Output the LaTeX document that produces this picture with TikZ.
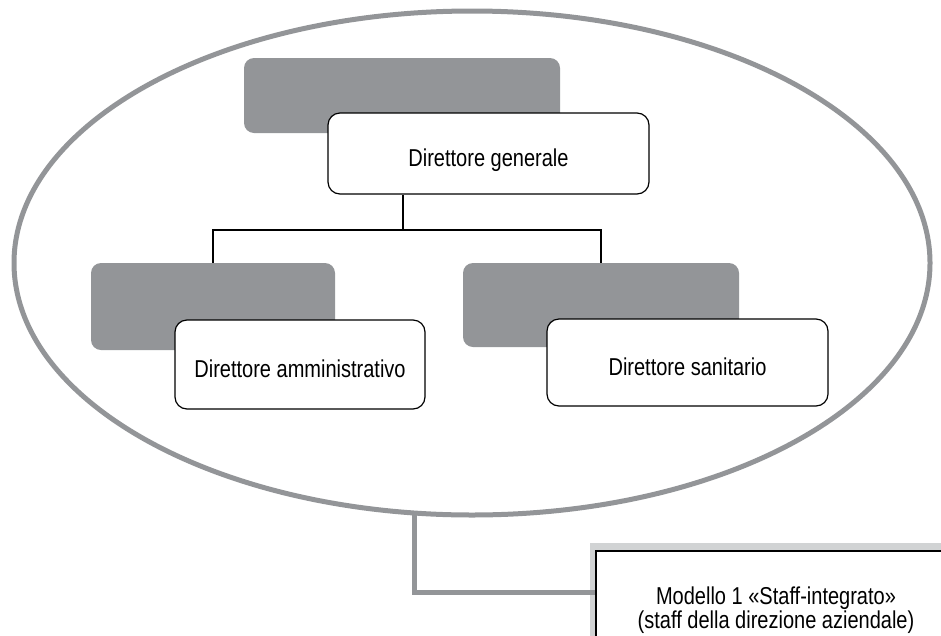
\documentclass[tikz,border=0pt]{standalone}
\usepackage{fontspec}
\setmainfont[FakeStretch=0.82]{Liberation Sans}
\usetikzlibrary{shapes.geometric,backgrounds}
\definecolor{ringgray}{RGB}{147,149,152}
\definecolor{bandgray}{RGB}{209,211,212}
\begin{document}
\begin{tikzpicture}[x=1pt,y=-1pt,font=\fontsize{24.4}{22.5}\selectfont,
  plate/.style={fill=ringgray,rounded corners=10pt,inner sep=0pt},
  role/.style={draw=black,line width=1.2pt,fill=white,rounded corners=12pt,inner sep=0pt,text height=30pt,text depth=5pt},
  tree/.style={line width=2.8pt},
  feed/.style={draw=ringgray,line width=5pt}]
\clip (0,0) rectangle (941,635);
\node[ellipse,draw=ringgray,line width=5pt,minimum width=916pt,minimum height=504pt,inner sep=0pt,outer sep=0pt] (ring) at (472,263) {};
\node[plate,minimum width=316pt,minimum height=75pt] (dgback) at (402,95.5) {};
\node[role,minimum width=321pt,minimum height=81pt] (dg) at (488.5,153.5) {Direttore generale};
\node[plate,minimum width=244pt,minimum height=87pt] (admback) at (213,306.5) {};
\node[role,minimum width=250pt,minimum height=89pt] (adm) at (300,364.5) {Direttore amministrativo};
\node[plate,minimum width=276pt,minimum height=84pt] (sanback) at (601,305) {};
\node[role,minimum width=281pt,minimum height=87pt] (san) at (687.5,362.5) {Direttore sanitario};
\coordinate (fork) at (403,230);
\draw[tree] (dg.south -| fork) -- (fork);
\draw[tree] (admback.north) -- (admback.north |- fork) -- (sanback.north |- fork) -- (sanback.north);
\node[draw=black,line width=1.2pt,fill=white,minimum width=360pt,minimum height=118pt,inner sep=0pt,align=center] (model) at (776,610) {Modello 1 «Staff-integrato»\\(staff della direzione aziendale)};
\draw[feed] (ring.-103) |- ([yshift=18pt]model.west);
\begin{scope}[on background layer]
\fill[bandgray] (590,543) rectangle (960,680);
\end{scope}
\end{tikzpicture}
\end{document}
